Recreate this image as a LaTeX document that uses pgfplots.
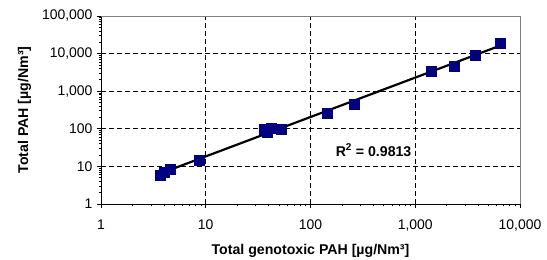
\documentclass[border=0pt]{standalone}
\usepackage{pgfplots}
\pgfplotsset{compat=1.18}
\usepackage{fontspec}
\setmainfont{Liberation Sans}
\definecolor{navy}{RGB}{0,0,128}
\begin{document}
\begin{tikzpicture}
\path[use as bounding box] (0,0) rectangle (547bp,260bp);
\begin{axis}[
  at={(101bp,56bp)}, anchor=south west,
  scale only axis, width=419bp, height=188bp,
  xmode=log, ymode=log,
  xmin=1, xmax=10000, ymin=1, ymax=100000,
  axis x line*=bottom, axis y line*=left,
  axis line style={-, black, line width=1bp},
  xtick={1,10,100,1000,10000},
  xticklabels={1,10,100,{1,000},{10,000}},
  ytick={1,10,100,1000,10000,100000},
  yticklabels={1,10,100,{1,000},{10,000},{100,000}},
  tick align=outside,
  major tick length=4bp, minor tick length=2.5bp,
  tick style={black, line width=0.8bp},
  ticklabel style={font=\fontsize{14}{16}\selectfont},
  xticklabel style={yshift=-8bp},
  yticklabel style={xshift=-1bp},
  xmajorgrids, ymajorgrids,
  major grid style={black, line width=0.7bp, dash pattern=on 5bp off 3bp},
  xlabel={\bfseries Total genotoxic PAH [µg/Nm³]},
  ylabel={\bfseries Total PAH [µg/Nm³]},
  label style={font=\fontsize{14.2}{16}\selectfont},
  xlabel style={yshift=-6bp},
  ylabel style={yshift=4bp},
  clip=false,
]
\draw[gray, line width=0.8bp] (rel axis cs:0,1) -- (rel axis cs:1,1) -- (rel axis cs:1,0);
\addplot[only marks, mark=square*, mark size=5bp, mark options={navy, fill=navy}] coordinates {
(3.7,6.0) (4.0,7.0) (4.6,8.3) (8.7,14.8)
(36,100) (39,80) (42,101) (53,98)
(145,258) (262,465)
(1413,3450) (2377,4600) (3718,8800) (6440,18800)
};
\addplot[black, line width=2.2bp] coordinates {(3.7,6.5) (6440,16200)};
\node[font=\fontsize{14.2}{16}\selectfont\bfseries] at (axis cs:400,27) {R$^{\mathbf{2}}$ = 0.9813};
\end{axis}
\end{tikzpicture}
\end{document}
